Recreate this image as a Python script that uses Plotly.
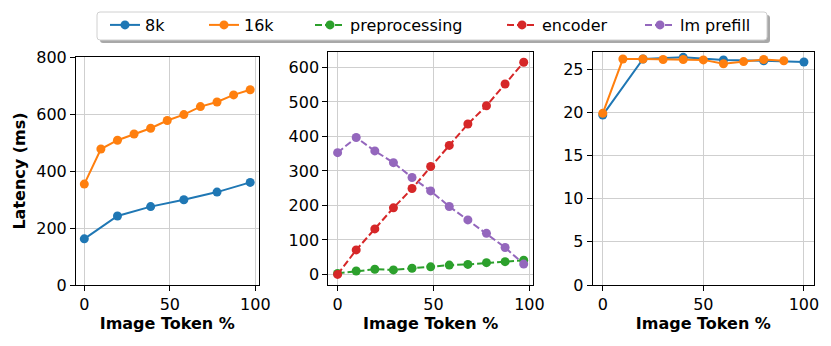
import plotly.graph_objects as go

W, H = 831, 346

# panel 1 and 2: x values (image token %)
x_p = [0, 9.7, 19.4, 29.1, 38.8, 48.5, 58.2, 67.9, 77.6, 87.3, 97]
x_8k_p1 = [0, 19.4, 38.8, 58.2, 77.6, 97]
lat_8k = [162, 242, 275, 299, 326, 360]
lat_16k = [354, 477, 508, 530, 550, 577, 598, 626, 642, 667, 685]

# panel 2: breakdown
preprocessing = [3, 10, 15, 13, 18, 22, 27, 29, 34, 37, 41]
encoder = [0, 71, 132, 193, 249, 313, 374, 436, 489, 552, 615]
lm_prefill = [353, 397, 358, 324, 281, 242, 197, 158, 119, 78, 30]

# panel 3
x_8k_p3 = [0, 20, 40, 60, 80, 100]
y_8k_p3 = [19.7, 26.2, 26.4, 26.1, 26.0, 25.85]
x_16k_p3 = [0, 10, 20, 30, 40, 50, 60, 70, 80, 90]
y_16k_p3 = [19.9, 26.2, 26.2, 26.15, 26.15, 26.1, 25.65, 25.9, 26.15, 26.0]

BLUE, ORANGE, GREEN, RED, PURPLE = "#1f77b4", "#ff7f0e", "#2ca02c", "#d62728", "#9467bd"
FONT = "DejaVu Sans"
FS = 16


def px_x(a, b):
    return [a / W, b / W]


def px_y(top, bottom):
    return [(H - bottom) / H, (H - top) / H]


fig = go.Figure()


def add(x, y, color, name, xa, ya, dash="solid", legend=None):
    fig.add_trace(go.Scatter(
        x=x, y=y, name=name, mode="lines+markers",
        line=dict(color=color, width=2, dash=dash),
        marker=dict(color=color, size=9),
        xaxis=xa, yaxis=ya, showlegend=legend is not None,
        legend=legend or "legend",
    ))


DASH = "7px,3px"
add(x_8k_p1, lat_8k, BLUE, "8k", "x", "y", legend="legend")
add(x_p, lat_16k, ORANGE, "16k", "x", "y", legend="legend2")
add(x_p, preprocessing, GREEN, "preprocessing", "x2", "y2", DASH, legend="legend3")
add(x_p, encoder, RED, "encoder", "x2", "y2", DASH, legend="legend4")
add(x_p, lm_prefill, PURPLE, "lm prefill", "x2", "y2", DASH, legend="legend5")
add(x_8k_p3, y_8k_p3, BLUE, "8k", "x3", "y3")
add(x_16k_p3, y_16k_p3, ORANGE, "16k", "x3", "y3")

axis_style = dict(
    showline=True, linecolor="black", linewidth=1, mirror=True,
    ticks="outside", ticklen=5, tickcolor="black",
    showgrid=True, gridcolor="#cfcfcf", gridwidth=1, zeroline=False,
    tickfont=dict(family=FONT, size=FS, color="black"), automargin=False,
)
xtitle = dict(text="<b>Image Token %</b>", font=dict(family=FONT, size=FS, color="black"), standoff=4)

fig.update_layout(
    width=W, height=H, margin=dict(l=0, r=0, t=0, b=0, autoexpand=False),
    plot_bgcolor="white", paper_bgcolor="white",
    font=dict(family=FONT, color="black"),
    xaxis=dict(domain=px_x(76, 258.5), range=[-4.85, 101.85], tickvals=[0, 50, 100],
               anchor="y", title=xtitle, **axis_style),
    yaxis=dict(domain=px_y(57, 285), range=[0, 800], tickvals=[0, 200, 400, 600, 800],
               anchor="x", title=dict(text="<b>Latency (ms)</b>",
                                      font=dict(family=FONT, size=FS, color="black"), standoff=6),
               **axis_style),
    xaxis2=dict(domain=px_x(328.3, 533), range=[-4.85, 101.85], tickvals=[0, 50, 100],
                anchor="y2", title=xtitle, **axis_style),
    yaxis2=dict(domain=px_y(51.7, 285), range=[-30.7, 645.7], tickvals=list(range(0, 601, 100)),
                anchor="x2", **axis_style),
    xaxis3=dict(domain=px_x(592.7, 814), range=[-5, 105], tickvals=[0, 50, 100],
                anchor="y3", title=xtitle, **axis_style),
    yaxis3=dict(domain=px_y(51.7, 285), range=[0, 27.05], tickvals=[0, 5, 10, 15, 20, 25],
                anchor="x3", **axis_style),
)

# one legend per entry so the spacing matches the reference; shared box drawn as shapes
text_starts = [148, 247, 353, 545, 683]
for i, tx in enumerate(text_starts):
    key = "legend" if i == 0 else f"legend{i + 1}"
    fig.update_layout({key: dict(
        x=(tx - 43) / W, y=1 - 8 / H, xanchor="left", yanchor="top",
        bgcolor="rgba(0,0,0,0)", borderwidth=0, orientation="h",
        font=dict(family=FONT, size=FS, color="black"),
    )})


def rounded(x0, y0, x1, y1, r=3):
    # pixel coords (y down) -> paper path with rounded corners
    fx = lambda v: v / W
    fy = lambda v: 1 - v / H
    return (f"M {fx(x0 + r)},{fy(y0)} L {fx(x1 - r)},{fy(y0)} Q {fx(x1)},{fy(y0)} {fx(x1)},{fy(y0 + r)} "
            f"L {fx(x1)},{fy(y1 - r)} Q {fx(x1)},{fy(y1)} {fx(x1 - r)},{fy(y1)} "
            f"L {fx(x0 + r)},{fy(y1)} Q {fx(x0)},{fy(y1)} {fx(x0)},{fy(y1 - r)} "
            f"L {fx(x0)},{fy(y0 + r)} Q {fx(x0)},{fy(y0)} {fx(x0 + r)},{fy(y0)} Z")


fig.add_shape(type="path", xref="paper", yref="paper", path=rounded(100, 15, 770, 43),
              fillcolor="#a8a8a8", line=dict(width=0), layer="below")
fig.add_shape(type="path", xref="paper", yref="paper", path=rounded(97, 12, 767, 40),
              fillcolor="white", line=dict(color="#d0d0d0", width=1), layer="below")

# page body has a default margin; remove it so the figure sits at the window origin
fig.write_html("out.html", config={"displayModeBar": False},
               post_script="document.body.style.margin='0';")
